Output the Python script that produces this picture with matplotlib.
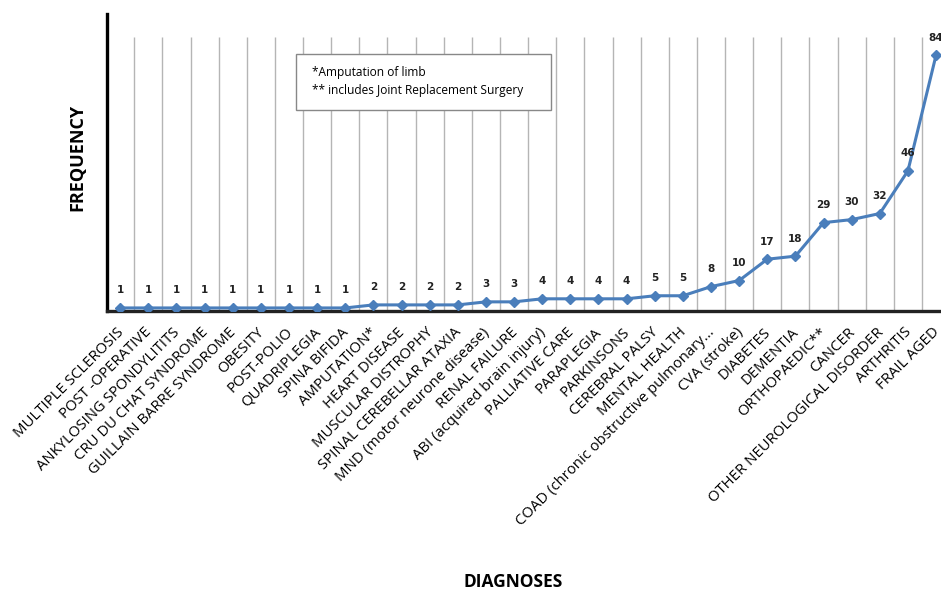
import matplotlib.pyplot as plt
import matplotlib.transforms as mtransforms
from matplotlib.patches import Rectangle

diagnoses = [
    "MULTIPLE SCLEROSIS", "POST -OPERATIVE", "ANKYLOSING SPONDYLITITS",
    "CRU DU CHAT SYNDROME", "GUILLAIN BARRE SYNDROME", "OBESITY", "POST-POLIO",
    "QUADRIPLEGIA", "SPINA BIFIDA", "AMPUTATION*", "HEART DISEASE",
    "MUSCULAR DISTROPHY", "SPINAL CEREBELLAR ATAXIA",
    "MND (motor neurone disease)", "RENAL FAILURE",
    "ABI (acquired brain injury)", "PALLIATIVE CARE", "PARAPLEGIA",
    "PARKINSONS", "CEREBRAL PALSY", "MENTAL HEALTH",
    "COAD (chronic obstructive pulmonary...", "CVA (stroke)", "DIABETES",
    "DEMENTIA", "ORTHOPAEDIC**", "CANCER", "OTHER NEUROLOGICAL DISORDER",
    "ARTHRITIS", "FRAIL AGED",
]
frequency = [1, 1, 1, 1, 1, 1, 1, 1, 1, 2, 2, 2, 2, 3, 3, 4, 4, 4, 4, 5, 5,
             8, 10, 17, 18, 29, 30, 32, 46, 84]
footnotes = "*Amputation of limb\n** includes Joint Replacement Surgery"

plt.rcParams['font.family'] = ['Open Sans', 'DejaVu Sans']

fig = plt.figure(figsize=(9.41, 5.9), dpi=100)
ax = fig.add_axes([0.1137, 0.4729, 0.896, 0.5034])

x = list(range(len(diagnoses)))
grid_x = [i + 0.5 for i in x[:-1]]
ax.vlines(grid_x, 0, 90, colors="#b5b5b5", linewidth=1.0, zorder=1)

ax.plot(x, frequency, color="#4a7ebb", linewidth=2.2, marker="D",
        markersize=5, zorder=3)
for xi, v in zip(x, frequency):
    ax.annotate(str(v), (xi, v), xytext=(0, 9), textcoords="offset points",
                ha="center", va="bottom", fontsize=7.5, color="#222222",
                fontweight="bold", family=["DejaVu Sans"])

ax.set_xlim(-0.47, 29.5)
ax.set_ylim(0, 97.5)
ax.set_xticks(x)
ax.set_xticklabels(diagnoses, rotation=45, ha="right", va="top",
                   rotation_mode="anchor", fontsize=10.7)
ax.tick_params(axis="x", length=0, pad=10)
shift = mtransforms.ScaledTranslation(-4 / 100, 0, fig.dpi_scale_trans)
for lbl in ax.get_xticklabels():
    lbl.set_transform(lbl.get_transform() + shift)
ax.set_yticks([])

for side in ["top", "right"]:
    ax.spines[side].set_visible(False)
ax.spines["left"].set_linewidth(2.4)
ax.spines["bottom"].set_linewidth(2.4)
ax.spines["bottom"].set_color("#222222")

# footnote box
ax.add_patch(Rectangle((6.25, 65.9), 9.05, 18.4, facecolor="white",
                       edgecolor="#888888", linewidth=1.0, zorder=4))
ax.text(6.82, 75.3, footnotes, fontsize=8.6, va="center", ha="left",
        linespacing=1.5, zorder=5)

fig.text(0.082, 0.734, "FREQUENCY", rotation=90, ha="center", va="center",
         fontsize=13, fontweight="bold")
fig.text(0.545, 0.014, "DIAGNOSES", ha="center", va="center",
         fontsize=12.5, fontweight="bold")

fig.savefig("out.png", dpi=100)
